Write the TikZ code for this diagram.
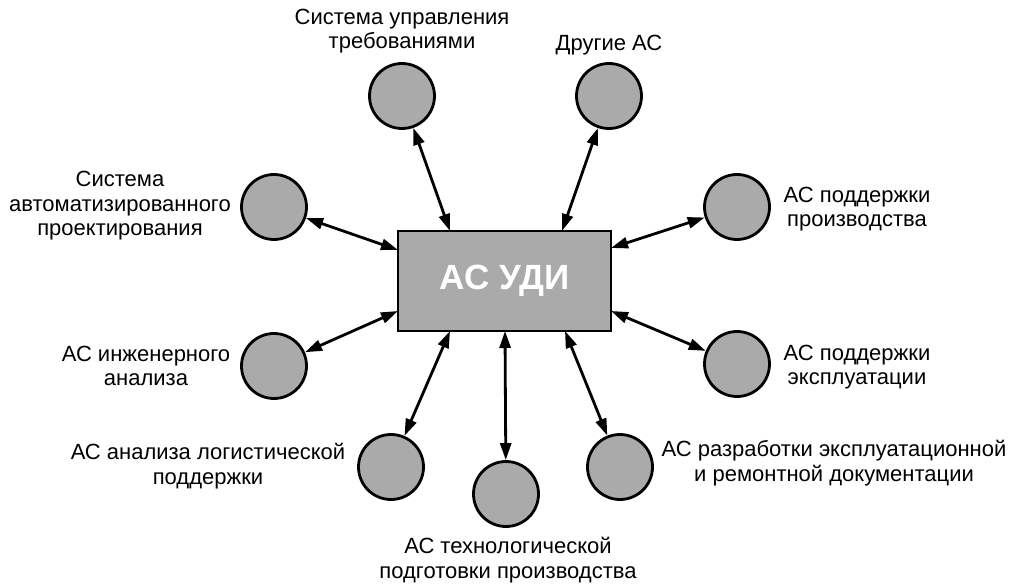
\documentclass[tikz,border=0pt]{standalone}
\usepackage{fontspec}
\setmainfont{Liberation Sans}
\usetikzlibrary{arrows.meta}
\definecolor{fillgray}{RGB}{170,170,170}
\tikzset{
  circ/.style={circle, draw=black, line width=2.8pt, fill=fillgray, minimum size=65pt, inner sep=0pt},
  mainbox/.style={draw=black, line width=2.8pt, fill=fillgray, minimum width=213pt, minimum height=100pt, inner sep=0pt, text=white, font=\fontsize{35}{40}\selectfont\bfseries},
  lbl/.style={align=center, font=\fontsize{22}{24.5}\selectfont, inner sep=0pt},
  arr/.style={line width=2.8pt, {Triangle[length=17pt,width=11pt]}-{Triangle[length=17pt,width=11pt]}}
}
\begin{document}
\begin{tikzpicture}[x=1pt,y=-1pt]
\useasboundingbox (0,0) rectangle (1010,585);
\node[mainbox] (main) at (504.5,281) {АС УДИ};
\node[circ] (tl) at (402,96) {};
\node[circ] (tr) at (609,96) {};
\node[circ] (lu) at (274,207) {};
\node[circ] (ll) at (274,366) {};
\node[circ] (ru) at (737,207) {};
\node[circ] (rl) at (737,364) {};
\node[circ] (bl) at (391,467) {};
\node[circ] (bc) at (506,494) {};
\node[circ] (br) at (620,467) {};
\coordinate (ptl) at (450,231);
\coordinate (ptr) at (562,231);
\coordinate (plu) at (398,250);
\coordinate (pll) at (398,311);
\coordinate (pru) at (611,248);
\coordinate (prl) at (611,311);
\coordinate (pbl) at (450,331);
\coordinate (pbc) at (505,331);
\coordinate (pbr) at (565,331);
\draw[arr] (tl) -- (ptl);
\draw[arr] (tr) -- (ptr);
\draw[arr] (lu) -- (plu);
\draw[arr] (ll) -- (pll);
\draw[arr] (ru) -- (pru);
\draw[arr] (rl) -- (prl);
\draw[arr] (bl) -- (pbl);
\draw[arr] (bc) -- (pbc);
\draw[arr] (br) -- (pbr);
\node[lbl] (ttl) at (402,31) {Система управления\\требованиями};
\node[lbl] (ttr) at (609,45) {Другие АС};
\node[lbl] (tlu) at (120,206) {Система\\автоматизированного\\проектирования};
\node[lbl] (tll) at (146,366) {АС инженерного\\анализа};
\node[lbl] (tru) at (857,209) {АС поддержки\\производства};
\node[lbl] (trl) at (857,367) {АС поддержки\\эксплуатации};
\node[lbl] (tbl) at (208,466) {АС анализа логистической\\поддержки};
\node[lbl] (tbc) at (508,560) {АС технологической\\подготовки производства};
\node[lbl] (tbr) at (834,463) {АС разработки эксплуатационной\\и ремонтной документации};
\end{tikzpicture}
\end{document}
